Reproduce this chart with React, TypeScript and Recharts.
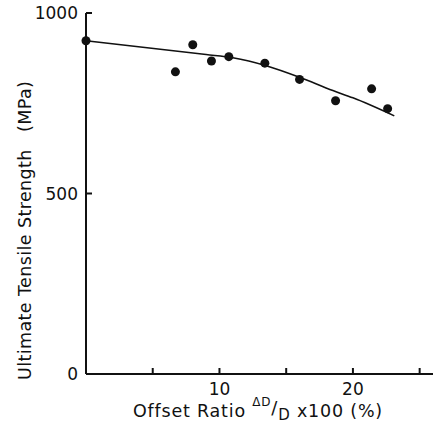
import { ComposedChart, Line, Scatter, XAxis, YAxis } from 'recharts';

// measured points (offset ratio %, MPa)
const pointX = [0, 6.7, 8.0, 9.4, 10.7, 13.4, 16.0, 18.7, 21.4, 22.6];
const pointY = [923, 837, 912, 867, 879, 861, 816, 757, 790, 735];

// fitted curve
const curveX = [0, 9.0, 11.0, 13.5, 16.0, 18.5, 20.0, 23.1];
const curveY = [923, 885, 876, 854, 822, 785, 765, 715];

const xTicks = [0, 5, 10, 15, 20, 25];
const xLabels = [10, 20];
const yTicks = [0, 500, 1000];

const FONT = '"DejaVu Sans", sans-serif';
const INK = '#111';

const points = pointX.map((x, i) => ({ x, y: pointY[i] }));
const curve = curveX.map((x, i) => ({ x, y: curveY[i] }));

function XTick(props: any) {
  const { x, y, payload } = props;
  return (
    <g>
      {payload.value > 0 && <line x1={x} y1={y} x2={x} y2={y - 6} stroke={INK} strokeWidth={2} />}
      {xLabels.includes(payload.value) && (
        <text x={x} y={y + 21} textAnchor="middle" fontSize={17} fontFamily={FONT} fill={INK}>
          {payload.value}
        </text>
      )}
    </g>
  );
}

function YTick(props: any) {
  const { x, y, payload } = props;
  return (
    <g>
      {payload.value > 0 && <line x1={x} y1={y} x2={x + 6} y2={y} stroke={INK} strokeWidth={2} />}
      <text x={x - 8} y={y + 6} textAnchor="end" fontSize={17} fontFamily={FONT} fill={INK}>
        {payload.value}
      </text>
    </g>
  );
}

function XTitle(props: any) {
  const { viewBox } = props;
  const bx = viewBox.x + 47;
  const by = viewBox.y + 43;
  return (
    <text x={bx} y={by} fontSize={17.5} fontFamily={FONT} fill={INK} letterSpacing={0.8}>
      <tspan>Offset Ratio </tspan>
      <tspan fontSize={12} dy={-11}>{'\u0394D'}</tspan>
      <tspan fontSize={18} dy={8}>/</tspan>
      <tspan fontSize={15} dy={6}>D</tspan>
      <tspan dy={-3}> x100 (%)</tspan>
    </text>
  );
}

function YTitle() {
  return (
    <g fontSize={17.5} fontFamily={FONT} fill={INK} letterSpacing={0.4}>
      <text x={31} y={380} transform="rotate(-90 31 380)">Ultimate Tensile Strength</text>
      <text x={31} y={132} transform="rotate(-90 31 132)">(MPa)</text>
    </g>
  );
}

export default function App() {
  return (
    <div style={{ position: 'absolute', left: 0, top: 0, background: '#fff' }}>
      <ComposedChart width={433} height={434} margin={{ top: 13, right: 0, bottom: 0, left: 0 }}>
        <XAxis
          type="number"
          dataKey="x"
          domain={[0, 26]}
          ticks={xTicks}
          height={60}
          tickSize={0}
          tickMargin={0}
          tickLine={false}
          tick={XTick}
          axisLine={{ stroke: INK, strokeWidth: 2 }}
          label={{ content: XTitle }}
        />
        <YAxis
          type="number"
          dataKey="y"
          domain={[0, 1000]}
          ticks={yTicks}
          width={86}
          tickSize={0}
          tickMargin={0}
          tickLine={false}
          tick={YTick}
          axisLine={{ stroke: INK, strokeWidth: 2 }}
          label={{ content: YTitle }}
        />
        <Line
          data={curve}
          dataKey="y"
          type="monotone"
          stroke={INK}
          strokeWidth={1.6}
          dot={false}
          activeDot={false}
          isAnimationActive={false}
        />
        <Scatter data={points} dataKey="y" fill={INK} shape={(p: any) => <circle cx={p.cx} cy={p.cy} r={4.5} fill={INK} />} isAnimationActive={false} />
      </ComposedChart>
    </div>
  );
}
